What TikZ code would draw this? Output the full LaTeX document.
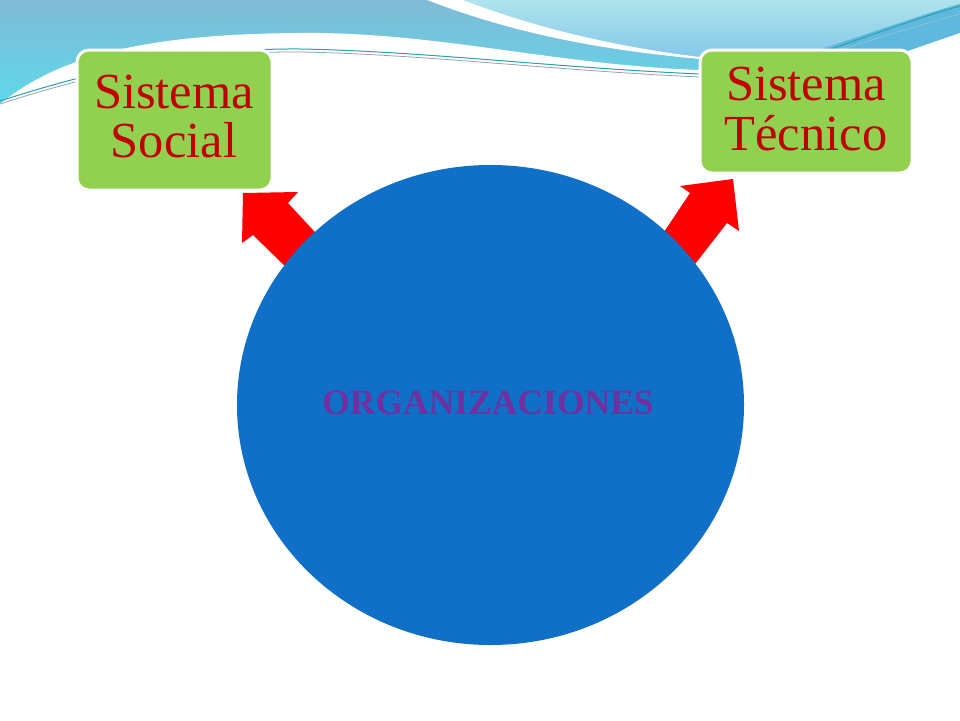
\documentclass[tikz,border=0pt]{standalone}
\usepackage{fontspec}
\setmainfont{Liberation Serif}
\usetikzlibrary{shapes.geometric}
\definecolor{orgblue}{RGB}{16,111,198}
\definecolor{boxgreen}{RGB}{146,208,80}
\definecolor{txtred}{RGB}{192,0,0}
\definecolor{orgpurple}{RGB}{112,48,160}
\definecolor{bandtop}{RGB}{128,186,214}
\definecolor{bandbot}{RGB}{92,218,236}
\definecolor{lighttop}{RGB}{174,228,236}
\definecolor{lightbot}{RGB}{132,200,234}
\definecolor{stripe}{RGB}{96,184,222}
\definecolor{tealline}{RGB}{40,160,175}
\definecolor{greyline}{RGB}{150,160,175}
\tikzset{
  sysbox/.style={draw=white, line width=3pt, fill=boxgreen, rounded corners=12pt},
  systext/.style={text=txtred, font=\fontsize{50.5}{50}\selectfont, anchor=base, inner sep=0pt},
  blockarrow/.style={fill=red, draw=none},
  thinline/.style={line width=1pt, line cap=round}
}
\begin{document}
\begin{tikzpicture}[x=1pt,y=-1pt]
\useasboundingbox (0,0) rectangle (960,720);
% background band
\shade[top color=bandtop, bottom color=bandbot] (0,0) rectangle (960,110);
% lighter region right of the swoosh
\shade[top color=lighttop, bottom color=lightbot]
  (463,0) .. controls (520,22) and (600,45) .. (700,57) -- (818,50)
  .. controls (880,30) and (930,12) .. (960,4) -- (960,0) -- cycle;
% darker stripe on the right
\fill[stripe] (818,50) .. controls (880,30) and (930,12) .. (960,4)
  -- (960,33) -- (905,52) -- cycle;
\draw[tealline, thinline] (828,50) .. controls (880,32) and (930,14) .. (960,6);
\draw[tealline!60!white, thinline] (840,50) .. controls (890,34) and (930,22) .. (960,14);
% white swoosh
\fill[white] (427,0) .. controls (500,28) and (580,48) .. (700,59)
  -- (700,57) .. controls (600,45) and (520,22) .. (463,0) -- cycle;
% white lower area
\fill[white] (0,104) .. controls (60,55) and (150,32) .. (320,33)
  .. controls (450,35) and (560,65) .. (700,70) -- (720,70) -- (905,52)
  -- (960,33) -- (960,720) -- (0,720) -- cycle;
% thin lines
\draw[tealline, thinline] (0,101) .. controls (90,72) and (190,48) .. (300,49)
  .. controls (420,51) and (560,68) .. (700,74);
\draw[greyline, line width=0.8pt] (0,104) .. controls (90,75) and (190,51) .. (300,52)
  .. controls (420,54) and (560,71) .. (700,77);
% boxes
\node[sysbox, minimum width=195pt, minimum height=140pt, inner sep=0pt] (social) at (174.5,120) {};
\node[sysbox, minimum width=212pt, minimum height=123pt, inner sep=0pt] (tecnico) at (806,111.5) {};
\node[systext] (social1) at (174,108) {Sistema};
\node[systext] (social2) at (174,157) {Social};
\node[systext] (tecnico1) at (806,100) {Sistema};
\node[systext] (tecnico2) at (806,150) {Técnico};
% block arrows
\fill[blockarrow] (243,193) -- (298,192) -- (288,203) -- (325,243) -- (292,273)
  -- (253,235) -- (242,243) -- cycle;
\fill[blockarrow] (733,179) -- (680,186) -- (690,193) -- (660,238) -- (695,264)
  -- (727,223) -- (739,231) -- cycle;
% circle
\node[ellipse, fill=orgblue, minimum width=507pt, minimum height=480pt, inner sep=0pt] (org) at (490.5,405) {};
\node[text=orgpurple, font=\bfseries\fontsize{35.5}{40}\selectfont, inner sep=0pt] (orgtext) at (488,403) {ORGANIZACIONES};
\end{tikzpicture}
\end{document}
